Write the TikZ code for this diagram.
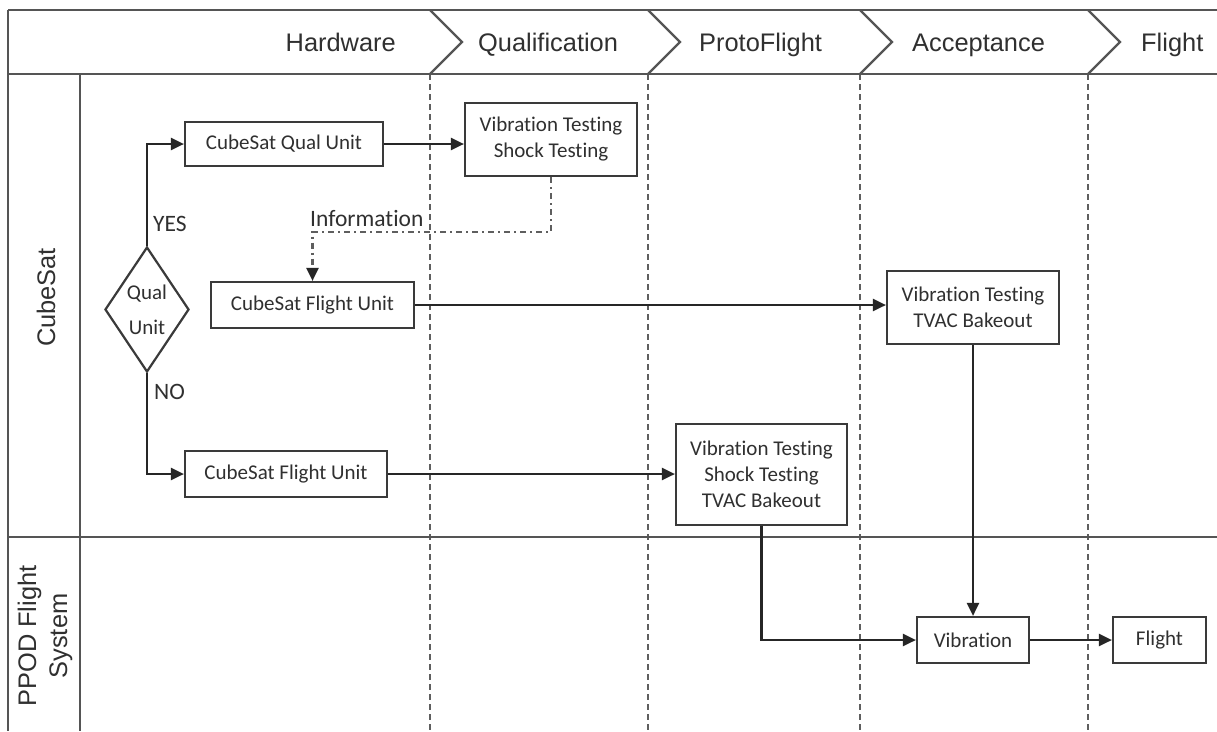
\documentclass[tikz,border=0pt]{standalone}
\usepackage{fontspec}
\usetikzlibrary{arrows.meta,shapes.geometric}
\newfontfamily\hdrfont{Liberation Sans}
\newfontfamily\boxfont[Ligatures=NoCommon]{Carlito}
\definecolor{framecol}{HTML}{555555}
\definecolor{dashcol}{HTML}{5E5E5E}
\definecolor{boxcol}{HTML}{3A3A3A}
\definecolor{arrcol}{HTML}{262626}
\definecolor{txtcol}{HTML}{303030}
\begin{document}
\begin{tikzpicture}[x=1pt,y=-1pt,
  frame/.style={draw=framecol, line width=2.2pt},
  phasedash/.style={draw=dashcol, line width=2.2pt, dash pattern=on 6pt off 4pt},
  hdr/.style={inner sep=0pt, text=txtcol, font=\hdrfont\fontsize{25.4}{31}\selectfont},
  stepbox/.style={draw=boxcol, line width=2.2pt, inner sep=0pt, align=center,
    text=txtcol, font=\boxfont\fontsize{21}{26}\selectfont},
  lbl/.style={inner sep=0pt, text=txtcol, font=\boxfont\fontsize{23.5}{28}\selectfont},
  flow/.style={draw=arrcol, line width=2.2pt, -{Triangle[length=13pt,width=12pt]}},
  infoflow/.style={draw=dashcol, line width=2.2pt, dash pattern=on 6pt off 4pt on 2pt off 4pt,
    -{Triangle[length=13pt,width=12pt,color=arrcol]}}]
\path[use as bounding box, fill=white] (0,0) rectangle (1217,731);

% phase separators: dashed guides and header chevrons
\foreach \px in {430,648,860,1088} {
  \draw[phasedash] (\px,74) -- (\px,731);
  \draw[frame, line join=miter] (\px,10) -- (\px+32,42) -- (\px,74);
}

% swimlane frame
\draw[frame] (8,10) -- (1217,10);
\draw[frame] (8,74) -- (1217,74);
\draw[frame] (8,537) -- (1217,537);
\draw[frame] (8,10) -- (8,731);
\draw[frame] (80,74) -- (80,731);

% phase titles
\node[hdr, anchor=base east] (hhw) at (396,51.5) {Hardware};
\node[hdr, anchor=base west] (hqual) at (478,51.5) {Qualification};
\node[hdr, anchor=base west] (hproto) at (699,51.5) {ProtoFlight};
\node[hdr, anchor=base west] (hacc) at (912,51.5) {Acceptance};
\node[hdr, anchor=base west] (hflt) at (1141,51.5) {Flight};

% lane titles
\node[hdr, rotate=90, anchor=base] (lcube) at (55,297.5) {CubeSat};
\node[hdr, rotate=90, align=center] (lppod) at (45,636) {PPOD Flight\\System};

% decision
\node[draw=boxcol, line width=2.2pt, diamond, aspect=0.67, inner sep=0pt,
  minimum width=84pt, minimum height=125pt, align=center, text=txtcol,
  font=\boxfont\fontsize{21}{35}\selectfont] (dia) at (147,309.5) {Qual\\Unit};

% process steps
\node[stepbox, minimum width=198pt, minimum height=44pt] (qual) at (284,144) {CubeSat Qual Unit};
\node[stepbox, minimum width=172pt, minimum height=73pt] (vib1) at (551,139.5) {Vibration Testing\\Shock Testing};
\node[stepbox, minimum width=203pt, minimum height=46pt] (mflight) at (312.5,305) {CubeSat Flight Unit};
\node[stepbox, minimum width=172pt, minimum height=73pt] (tvac) at (973,307.5) {Vibration Testing\\TVAC Bakeout};
\node[stepbox, minimum width=202pt, minimum height=46pt] (bflight) at (286,474) {CubeSat Flight Unit};
\node[stepbox, minimum width=171pt, minimum height=101pt] (bvib) at (761.5,474.5) {Vibration Testing\\Shock Testing\\TVAC Bakeout};
\node[stepbox, minimum width=112pt, minimum height=46pt] (vib) at (973,640) {Vibration};
\node[stepbox, minimum width=93pt, minimum height=46pt] (flight) at (1159.5,640) {Flight};

% branch labels
\node[lbl, anchor=west] (yes) at (153,224) {YES};
\node[lbl, anchor=west] (no) at (154,392) {NO};
\node[lbl, anchor=west] (infolbl) at (310,218) {Information};

% connectors
\draw[flow] (dia.north) |- (qual.west);
\draw[flow] (dia.south) |- (bflight.west);
\draw[flow] (qual.east) -- (qual.east -| vib1.west);
\coordinate (infobend) at (551,232);
\draw[infoflow] (vib1.south) -- (infobend) -| (mflight.north);
\draw[flow] (mflight.east) -- (mflight.east -| tvac.west);
\draw[flow] (bflight.east) -- (bflight.east -| bvib.west);
\draw[flow] (tvac.south) -- (vib.north);
\draw[flow] (bvib.south) |- (vib.west);
\draw[flow] (vib.east) -- (flight.west);
\end{tikzpicture}
\end{document}
